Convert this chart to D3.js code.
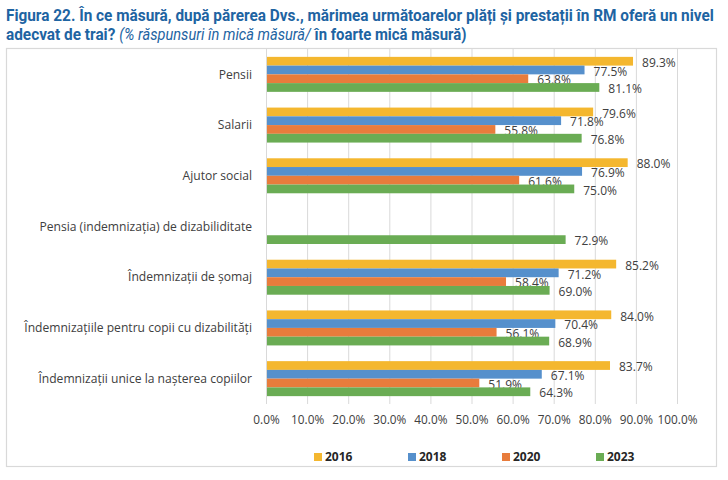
<!DOCTYPE html>
<html>
<head>
<meta charset="utf-8">
<script src="https://cdn.jsdelivr.net/npm/d3@7"></script>
<style>
  html, body { margin: 0; padding: 0; background: #fff; }
  svg { display: block; }
</style>
</head>
<body>
<svg id="chart" width="728" height="480"></svg>
<script>
const categories = [
  "Pensii",
  "Salarii",
  "Ajutor social",
  "Pensia (indemnizația) de dizabiliditate",
  "Îndemnizații de șomaj",
  "Îndemnizațiile pentru copii cu dizabilități",
  "Îndemnizații unice la nașterea copiilor"
];
const years = ["2016", "2018", "2020", "2023"];
const v2016 = [89.3, 79.6, 88.0, null, 85.2, 84.0, 83.7];
const v2018 = [77.5, 71.8, 76.9, null, 71.2, 70.4, 67.1];
const v2020 = [63.8, 55.8, 61.6, null, 58.4, 56.1, 51.9];
const v2023 = [81.1, 76.8, 75.0, 72.9, 69.0, 68.9, 64.3];
const xTicks = [0, 10, 20, 30, 40, 50, 60, 70, 80, 90, 100];
const colors = ["#F4B72F", "#5690CC", "#E87C3C", "#6AAC54"];

const series = [v2016, v2018, v2020, v2023];

const svg = d3.select("#chart");
const FONT = "'Open Sans', 'Noto Sans', sans-serif";

// Frame
svg.append("rect")
  .attr("x", 6.5).attr("y", 48.5)
  .attr("width", 710).attr("height", 418)
  .attr("fill", "none").attr("stroke", "#d9d9d9").attr("stroke-width", 1.2);

// Title
const titleColor = "#1e64a2";
const tg = svg.append("g");
const t1 = tg.append("text")
  .attr("x", 0).attr("y", 21)
  .attr("font-family", "Roboto, 'Liberation Sans', sans-serif")
  .attr("font-weight", "bold").attr("font-size", 16.5)
  .attr("fill", titleColor)
  .text("Figura 22. În ce măsură, după părerea Dvs., mărimea următoarelor plăți și prestații în RM oferă un nivel");
const t2 = tg.append("text")
  .attr("x", 0).attr("y", 40)
  .attr("font-family", "Roboto, 'Liberation Sans', sans-serif")
  .attr("font-size", 16.5)
  .attr("fill", titleColor);
t2.append("tspan").attr("font-weight", "bold").text("adecvat de trai? ");
t2.append("tspan").attr("font-style", "italic").attr("font-weight", "normal").attr("font-size", 15.7).text("(% răspunsuri în mică măsură/");
t2.append("tspan").attr("font-weight", "bold").attr("font-size", 16).text(" în foarte mică măsură)");
const w1 = t1.node().getComputedTextLength();
const sx = 708 / w1;
tg.attr("transform", `translate(6,0) scale(${sx},1)`);

// Scales
const plot = { left: 266, right: 677, top: 49, bottom: 404 };
const x = d3.scaleLinear().domain([0, 100]).range([plot.left, plot.right]);
const y0 = d3.scaleBand().domain(categories).range([plot.top, plot.bottom]).paddingInner(0.31).paddingOuter(0.155);
const y1 = d3.scaleBand().domain(years).range([0, y0.bandwidth()]);

// Gridlines
svg.append("g")
  .selectAll("line").data(xTicks).join("line")
  .attr("x1", d => x(d) + 0.5).attr("x2", d => x(d) + 0.5)
  .attr("y1", plot.top).attr("y2", plot.bottom)
  .attr("stroke", "#d9d9d9").attr("stroke-width", 1);

// X axis labels
const xAxis = d3.axisBottom(x).tickValues(xTicks).tickSize(0).tickPadding(0)
  .tickFormat(d => d.toFixed(1) + "%");
const xa = svg.append("g").attr("transform", `translate(0,${plot.bottom + 12})`).call(xAxis);
xa.select(".domain").remove();
xa.selectAll("text")
  .attr("font-family", FONT)
  .attr("font-size", 11.8).attr("fill", "#404040");

// Category labels
const ya = d3.axisLeft(y0).tickSize(0).tickPadding(0);
const yg = svg.append("g").attr("transform", `translate(${plot.left - 14},0)`).call(ya);
yg.select(".domain").remove();
yg.selectAll("text")
  .attr("font-family", FONT)
  .attr("font-size", 12.1).attr("fill", "#404040")
  .attr("dy", "0.35em");

// Bars
const groups = svg.append("g").selectAll("g").data(categories).join("g")
  .attr("transform", d => `translate(0,${y0(d)})`);

const cells = groups.selectAll("g.cell")
  .data((c, i) => years.map((yr, j) => ({ yr, j, v: series[j][i] })).filter(d => d.v !== null))
  .join("g").attr("class", "cell");

cells.append("rect")
  .attr("x", x(0) + 1)
  .attr("y", d => y1(d.yr))
  .attr("width", d => x(d.v) - x(0) - 1)
  .attr("height", y1.bandwidth())
  .attr("fill", d => colors[d.j]);

cells.append("text")
  .attr("x", d => x(d.v) + 9)
  .attr("y", d => y1(d.yr) + y1.bandwidth() / 2 + 1.5)
  .attr("dy", "0.35em")
  .attr("font-family", FONT)
  .attr("font-size", 12).attr("fill", "#404040")
  .text(d => d.v.toFixed(1) + "%");

// Legend
const legend = svg.append("g").attr("transform", "translate(314,457)");
const li = legend.selectAll("g").data(years).join("g")
  .attr("transform", (d, i) => `translate(${i * 94},0)`);
li.append("rect").attr("x", 0).attr("y", -4).attr("width", 8).attr("height", 8)
  .attr("fill", (d, i) => colors[i]);
li.append("text").attr("x", 11).attr("y", 0).attr("dy", "0.35em")
  .attr("font-family", FONT)
  .attr("font-weight", "bold").attr("font-size", 12).attr("fill", "#262626")
  .text(d => d);
</script>
</body>
</html>
